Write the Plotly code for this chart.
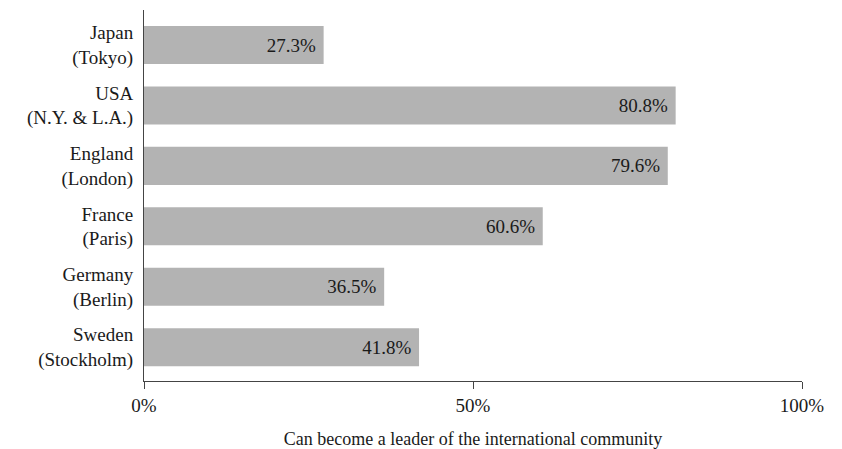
import plotly.graph_objects as go

categories = ["Japan<br>(Tokyo)", "USA<br>(N.Y. &amp; L.A.)", "England<br>(London)",
              "France<br>(Paris)", "Germany<br>(Berlin)", "Sweden<br>(Stockholm)"]
values = [27.3, 80.8, 79.6, 60.6, 36.5, 41.8]
tick_vals = [0, 50, 100]
tick_text = ["0%", "50%", "100%"]
x_title = "Can become a leader of the international community"

FONT = "Liberation Serif, DejaVu Serif, serif"
TXT = "#1a1a1a"

fig = go.Figure(go.Bar(
    x=values,
    y=categories,
    orientation="h",
    marker=dict(color="#b3b3b3", line=dict(width=0)),
    text=[f"{v:.1f}%\u00a0" for v in values],
    textposition="inside",
    insidetextanchor="end",
    textfont=dict(family=FONT, size=19, color=TXT),
    cliponaxis=False,
    width=0.63,
    hoverinfo="skip",
))

fig.update_layout(
    width=842, height=449,
    margin=dict(l=144, r=40, t=10, b=68, autoexpand=False),
    paper_bgcolor="white", plot_bgcolor="white",
    font=dict(family=FONT, size=18, color=TXT),
    showlegend=False,
    bargap=0.37,
)

fig.update_xaxes(
    range=[0, 100],
    automargin=False,
    tickvals=tick_vals, ticktext=tick_text,
    ticks="outside", ticklen=7, tickcolor="#444", tickwidth=1,
    showline=True, linecolor="#444", linewidth=1,
    showgrid=False, zeroline=False,
    ticklabelstandoff=0,
    tickfont=dict(family=FONT, size=19, color=TXT),
    title=dict(text=x_title, font=dict(family=FONT, size=18, color=TXT), standoff=20),
)

fig.update_yaxes(
    type="category",
    automargin=False,
    range=[5.56, -0.58],
    showline=True, linecolor="#444", linewidth=1,
    showgrid=False, zeroline=False,
    ticks="", ticklabelstandoff=6,
    tickfont=dict(family=FONT, size=19, color=TXT),
)

fig.write_html("out.html", config={"displayModeBar": False},
               post_script=["document.body.style.margin='0';"])
